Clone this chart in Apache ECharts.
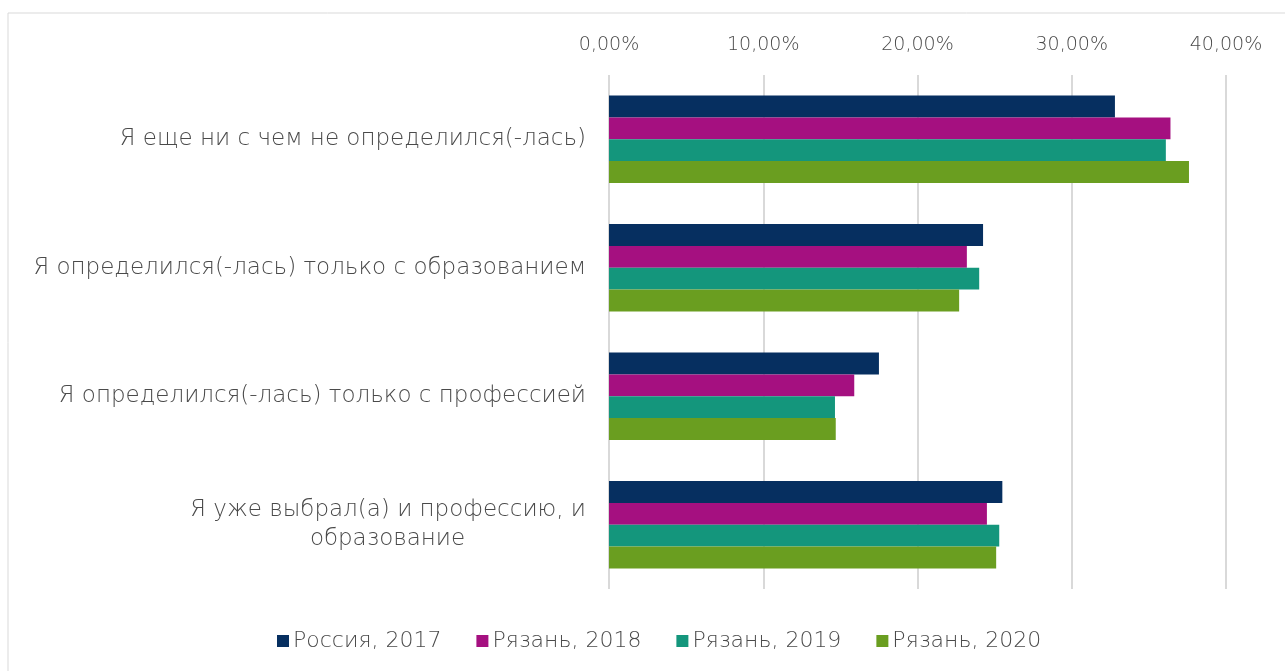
<!DOCTYPE html>
<html>
<head>
<meta charset="utf-8">
<script src="https://cdn.jsdelivr.net/npm/echarts@6/dist/echarts.min.js"></script>
<style>
  html, body { margin: 0; padding: 0; background: #fff; }
  #chart { width: 1285px; height: 671px; }
</style>
</head>
<body>
<div id="chart"></div>
<script>
const categories = [
  'Я еще ни с чем не определился(-лась)',
  'Я определился(-лась) только с образованием',
  'Я определился(-лась) только с профессией',
  'Я уже выбрал(а) и профессию, и образование'
];
const seriesNames = ['Россия, 2017', 'Рязань, 2018', 'Рязань, 2019', 'Рязань, 2020'];
const russia2017 = [32.8, 24.25, 17.5, 25.5];
const ryazan2018 = [36.4, 23.2, 15.9, 24.5];
const ryazan2019 = [36.1, 24.0, 14.65, 25.3];
const ryazan2020 = [37.6, 22.7, 14.7, 25.1];
const xTicks = [0, 10, 20, 30, 40];

const colors = ['#062f60', '#a51080', '#14967c', '#6a9e20'];
const font = 'DejaVu Sans';
const weight = 200;
const labelSize = 23;
const textColor = '#4a4a4a';

let chartDom = document.getElementById('chart');
let myChart = echarts.init(chartDom);

// the last label wraps with its second line centred under the first
const ctx = document.createElement('canvas').getContext('2d');
ctx.font = weight + ' ' + labelSize + 'px "' + font + '"';
const firstLine = 'Я уже выбрал(а) и профессию, и';
const lineW = Math.ceil(ctx.measureText(firstLine).width);

const richStyle = align => ({
  width: lineW, align: align, fontSize: labelSize, fontWeight: weight,
  color: textColor, lineHeight: 29, fontFamily: font
});

let option = {
  color: colors,
  textStyle: { fontFamily: font, fontWeight: weight },
  graphic: [{
    type: 'rect',
    shape: { x: 8, y: 13, width: 1300, height: 700 },
    style: { fill: 'none', stroke: '#d9d9d9', lineWidth: 1 },
    silent: true
  }],
  grid: { left: 609, right: 59, top: 75, bottom: 82 },
  legend: {
    bottom: 14,
    left: 272,
    itemWidth: 12,
    itemHeight: 12,
    itemGap: 35,
    icon: 'rect',
    textStyle: { color: textColor, fontSize: 22, fontWeight: weight, fontFamily: font, padding: [0, 0, 0, -1] },
    data: seriesNames
  },
  xAxis: {
    type: 'value',
    position: 'top',
    min: xTicks[0],
    max: xTicks[xTicks.length - 1],
    interval: 10,
    axisLine: { show: false },
    axisTick: { show: false },
    splitLine: { lineStyle: { color: '#d9d9d9', width: 2 } },
    axisLabel: {
      color: textColor,
      fontSize: 19,
      fontWeight: weight,
      margin: 20,
      formatter: v => v.toFixed(2).replace('.', ',') + '%'
    }
  },
  yAxis: {
    type: 'category',
    inverse: true,
    data: categories,
    axisLine: { show: false },
    axisTick: { show: false },
    axisLabel: {
      color: textColor,
      fontSize: labelSize,
      fontWeight: weight,
      margin: 23,
      formatter: v => {
        if (v.indexOf(firstLine) === 0) {
          return '{a|' + firstLine + '}\n{b|' + v.slice(firstLine.length).trim() + '}';
        }
        return v;
      },
      rich: { a: richStyle('right'), b: richStyle('center') }
    }
  },
  series: [
    { name: seriesNames[0], type: 'bar', data: russia2017, barGap: '0%', barCategoryGap: '32%' },
    { name: seriesNames[1], type: 'bar', data: ryazan2018, barGap: '0%', barCategoryGap: '32%' },
    { name: seriesNames[2], type: 'bar', data: ryazan2019, barGap: '0%', barCategoryGap: '32%' },
    { name: seriesNames[3], type: 'bar', data: ryazan2020, barGap: '0%', barCategoryGap: '32%' }
  ]
};
option && myChart.setOption(option);
</script>
</body>
</html>
